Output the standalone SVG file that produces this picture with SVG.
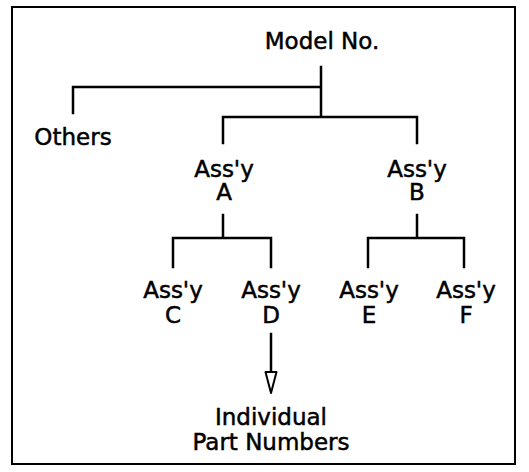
<svg xmlns="http://www.w3.org/2000/svg" width="529" height="472" viewBox="0 0 529 472">
<style>
text{font-family:"DejaVu Sans",sans-serif;font-size:23px;fill:#000;stroke:#000;stroke-width:0.5;text-anchor:middle}
.c{stroke:#000;stroke-width:2.5;fill:none;stroke-linecap:square}
</style>
<rect x="12" y="7" width="503" height="457" fill="#fff" stroke="#000" stroke-width="2"/>
<g id="connectors">
<path class="c" d="M321,67 V116 M73,113 V87 H321 M223,143 V117 H417 V143"/>
<path class="c" d="M223,215 V238 M173,267 V238 H271 V267"/>
<path class="c" d="M417,215 V238 M368,267 V238 H464 V267"/>
<path class="c" d="M271,334 V372"/>
<path d="M265.5,372 L276.5,372 L271,393 Z" fill="#fff" stroke="#000" stroke-width="2" stroke-linejoin="round"/>
</g>
<g id="model"><text x="322" y="49">Model No.</text></g>
<g id="others"><text x="73" y="145">Others</text></g>
<g id="assyA"><text x="224" y="177">Ass'y</text><text x="224" y="200">A</text></g>
<g id="assyB"><text x="417" y="177">Ass'y</text><text x="417" y="200">B</text></g>
<g id="assyC"><text x="173" y="298">Ass'y</text><text x="173" y="323">C</text></g>
<g id="assyD"><text x="271" y="298">Ass'y</text><text x="271" y="323">D</text></g>
<g id="assyE"><text x="369" y="298">Ass'y</text><text x="369" y="323">E</text></g>
<g id="assyF"><text x="466" y="298">Ass'y</text><text x="466" y="323">F</text></g>
<g id="parts"><text x="271" y="425">Individual</text><text x="271" y="450">Part Numbers</text></g>
</svg>
